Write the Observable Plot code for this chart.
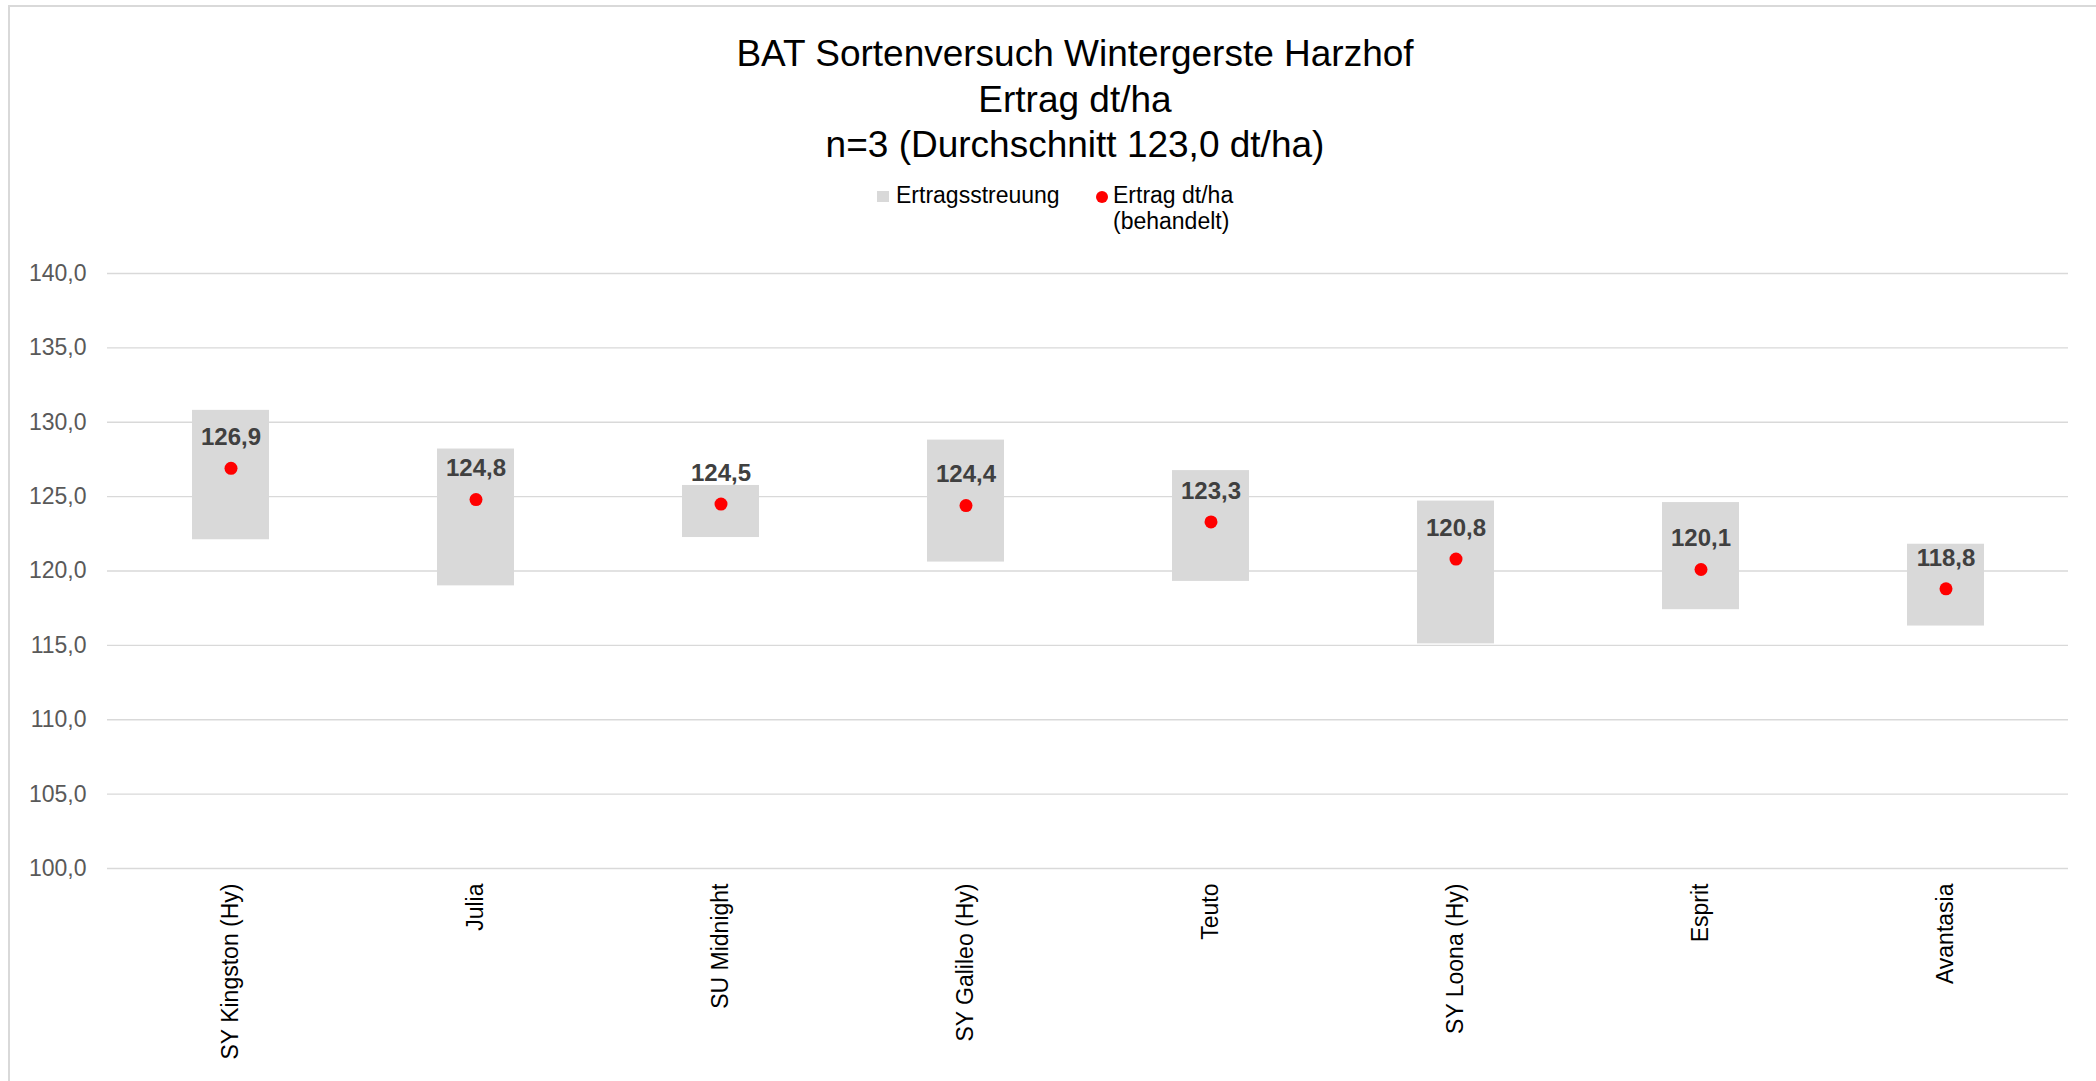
<!DOCTYPE html>
<html>
<head>
<meta charset="utf-8">
<script src="https://cdn.jsdelivr.net/npm/d3@7"></script>
<script src="https://cdn.jsdelivr.net/npm/@observablehq/plot@0.6"></script>
<style>
  html, body { margin: 0; padding: 0; background: #fff; overflow: hidden; }
  body { width: 2096px; height: 1081px; position: relative; font-family: "Liberation Sans", Arial, sans-serif; }
  #frame { position: absolute; left: 8px; top: 5px; width: 2110px; height: 1100px; border: 2px solid #d9d9d9; box-sizing: border-box; pointer-events: none; z-index: 10; }
  #header { position: relative; width: 2096px; height: 245px; }
  .title { position: absolute; left: 575px; width: 1000px; text-align: center; font-size: 37px; line-height: 45.5px; color: #000; white-space: nowrap; }
  .leg { position: absolute; font-size: 23px; line-height: 26px; color: #000; white-space: nowrap; }
  .sw { position: absolute; }
  #chart { position: relative; }
</style>
</head>
<body>
<div id="header">
  <div class="title" style="top:31px">BAT Sortenversuch Wintergerste Harzhof<br>Ertrag dt/ha<br>n=3 (Durchschnitt 123,0 dt/ha)</div>
  <div class="sw" style="left:877px; top:191px; width:12px; height:11px; background:#d9d9d9"></div>
  <div class="leg" style="left:896px; top:182px">Ertragsstreuung</div>
  <div class="sw" style="left:1096px; top:191px; width:12px; height:12px; border-radius:50%; background:#ff0000"></div>
  <div class="leg" style="left:1113px; top:182px">Ertrag dt/ha<br>(behandelt)</div>
</div>
<div id="chart"></div>
<div id="frame"></div>
<script>
const categories = ["SY Kingston (Hy)", "Julia", "SU Midnight", "SY Galileo (Hy)", "Teuto", "SY Loona (Hy)", "Esprit", "Avantasia"];
const ertrag = [126.9, 124.8, 124.5, 124.4, 123.3, 120.8, 120.1, 118.8];
const streuungMin = [122.1, 119.0, 122.25, 120.6, 119.3, 115.1, 117.4, 116.3];
const streuungMax = [130.8, 128.2, 125.75, 128.8, 126.75, 124.7, 124.6, 121.8];
const yTicks = [100, 105, 110, 115, 120, 125, 130, 135, 140];

const data = categories.map((c, i) => ({sorte: c, ertrag: ertrag[i], lo: streuungMin[i], hi: streuungMax[i]}));
const fmt = d => d.toFixed(1).replace(".", ",");

const chart = Plot.plot({
  width: 2096,
  height: 836,
  marginTop: 28,
  marginBottom: 213,
  marginLeft: 107,
  marginRight: 28,
  style: {fontFamily: "'Liberation Sans', Arial, sans-serif", background: "transparent"},
  x: {domain: categories, paddingInner: 0.686, paddingOuter: 0.343, label: null},
  y: {domain: [100, 140], label: null},
  marks: [
    Plot.gridY(yTicks, {stroke: "#d9d9d9", strokeOpacity: 1, strokeWidth: 1.4}),
    Plot.axisY(yTicks, {tickSize: 0, tickPadding: 21, tickFormat: fmt, fontSize: 23, fill: "#595959", label: null}),
    Plot.axisX({tickSize: 0, tickPadding: 15, tickRotate: -90, fontSize: 23, fill: "#000", label: null}),
    Plot.barY(data, {x: "sorte", y1: "lo", y2: "hi", fill: "#d9d9d9"}),
    Plot.dot(data, {x: "sorte", y: "ertrag", r: 6.5, fill: "#ff0000", stroke: "none"}),
    Plot.text(data, {x: "sorte", y: "ertrag", text: d => fmt(d.ertrag), dy: -31, fontSize: 24, fontWeight: "bold", fill: "#404040"})
  ]
});
document.getElementById("chart").appendChild(chart);
</script>
</body>
</html>
